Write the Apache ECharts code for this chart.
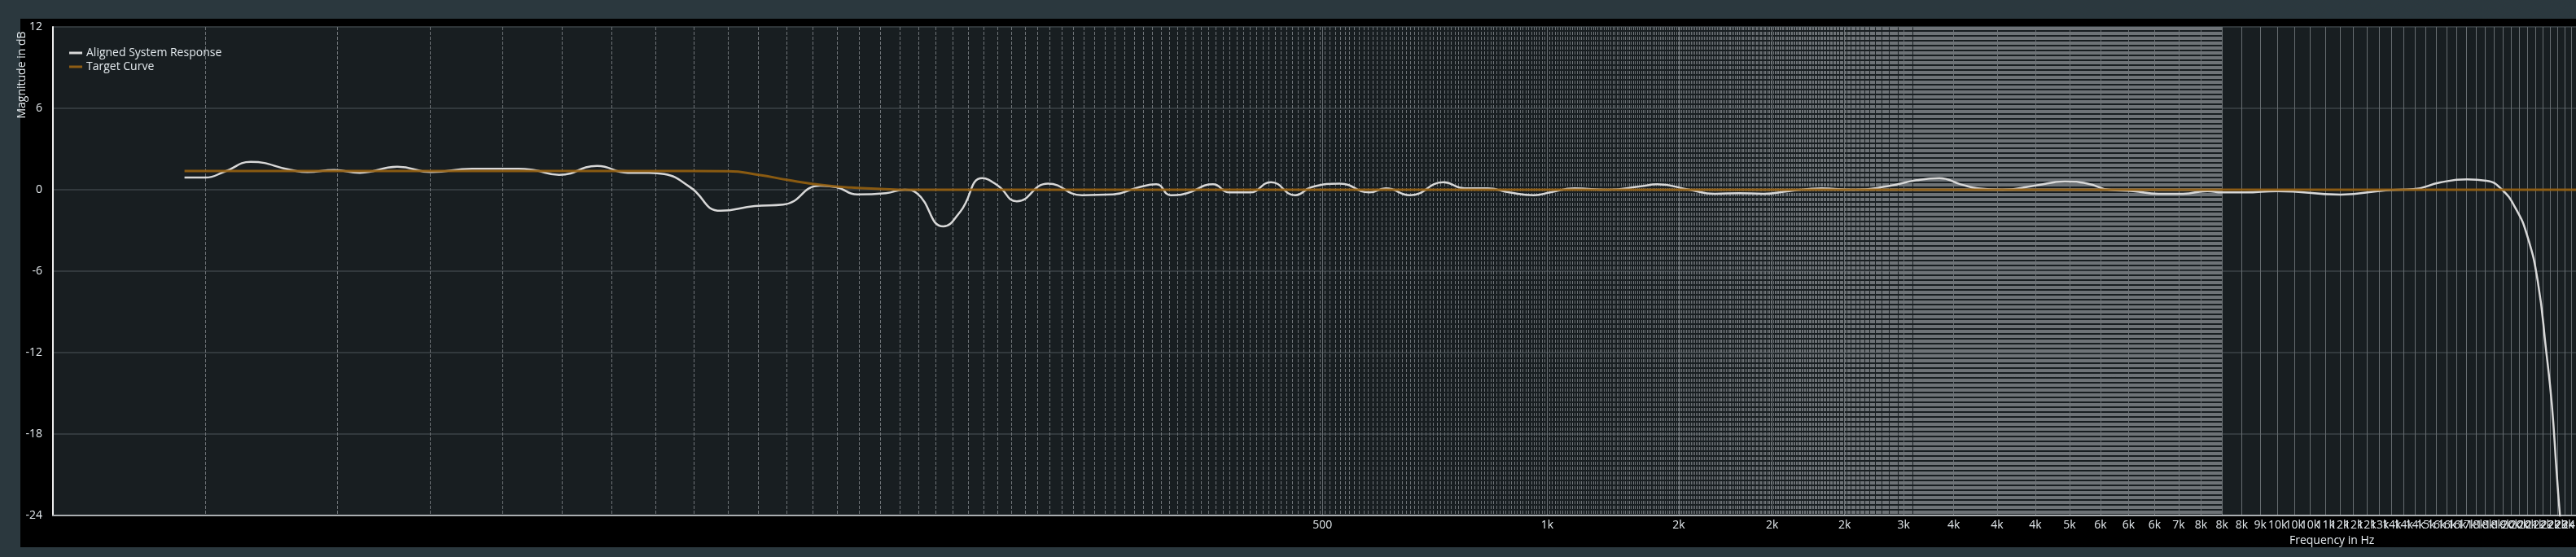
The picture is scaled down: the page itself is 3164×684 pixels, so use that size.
<!DOCTYPE html>
<html><head><meta charset="utf-8">
<script src="https://cdn.jsdelivr.net/npm/echarts@6/dist/echarts.min.js"></script>
<style>
html,body{margin:0;padding:0;background:#2b383e;overflow:hidden;width:3164px;height:684px;}
#panel{position:absolute;left:25px;top:23px;width:3200px;height:649px;background:#000;}
#chart{position:absolute;left:0;top:0;width:3200px;height:684px;}
</style></head><body>
<div id="panel"></div>
<div id="chart"></div>
<script>
// ---- data ----
const alignedFreq = [15,16,17,18.4,20.85,21.9,23.8,25.75,28.9,32.1,36.4,42,44,47.6,53.5,58.8,62.8,65.8,71.2,78.3,87,94.9,106.4,111.7,119.3,130.3,138,143.3,155.5,163.9,175.4,184,195,214.7,238.5,262.3,282.8,299.7,313.5,329.6,357,375.5,399.6,426.8,460,484,528,578,608,655.6,726.5,775,832,890,960,1009,1088,1206,1334,1403,1550,1676,1806,1948,2106,2328,2573,2852,3122,3349,3576,3770,4063,4492,4929,5288,5645,6085,6578,7093,7648,8000,8581,9489,11540,13250,14430,15680,17020,18080,18920,19790,20500,21180,21720,22110,22440,22670,23000];
const alignedDb = [0.9,0.9,1.35,2.05,1.45,1.3,1.45,1.25,1.7,1.3,1.55,1.55,1.45,1.1,1.75,1.25,1.25,1.15,0.2,-1.55,-1.2,-1.1,0.3,0.2,-0.35,-0.25,0.0,-0.25,-2.7,-1.6,0.85,0.3,-0.85,0.45,-0.4,-0.35,0.15,0.4,-0.4,-0.25,0.4,-0.2,-0.2,0.55,-0.4,0.2,0.45,-0.2,0.1,-0.4,0.55,0.1,0.1,-0.2,-0.4,-0.2,0.1,0,0.25,0.4,0,-0.3,-0.25,-0.3,-0.1,0.1,0,0.25,0.7,0.85,0.4,0.1,0,0.3,0.6,0.45,0,-0.1,-0.3,-0.3,-0.1,-0.2,-0.2,-0.1,-0.36,-0.04,0.04,0.54,0.76,0.66,0.06,-1.4,-3.4,-6.8,-11.8,-15.8,-20.8,-24,-28];
const targetFreq = [15,63,80,88,96.7,106.6,117,128,140,24000];
const targetDb = [1.38,1.38,1.36,1.1,0.7,0.36,0.16,0.06,0,0];
const majorTicks = [500,1000,1500,2000,2500,3000,3500,4000,4500,5000,5500,6000,6500,7000,7500,8000,8500,9000,9500,10000,10500,11000,11500,12000,12500,13000,13500,14000,14500,15000,15500,16000,16500,17000,17500,18000,18500,19000,19500,20000,20500,21000,21500,22000,22500,23000,23500,24000];
const majorLabels = ['500','1k','2k','2k','2k','3k','4k','4k','4k','5k','6k','6k','6k','7k','8k','8k','8k','9k','10k','10k','10k','11k','12k','12k','12k','13k','14k','14k','14k','15k','16k','16k','16k','17k','18k','18k','18k','19k','20k','20k','20k','21k','22k','22k','22k','23k','24k','24k'];
// fine analysis grid: every 8 Hz bin up to 8 kHz
const binStep = 8, binFirst = 2, binLast = 1000;
const binLines = [];
for (let k = binFirst; k <= binLast; k++) binLines.push(k * binStep);

const chart = echarts.init(document.getElementById('chart'), null, {renderer:'canvas'});
const font = 'Open Sans';
const txt = '#e4eaee';
chart.setOption({
  animation:false,
  textStyle:{fontFamily:font},
  grid:{left:65, top:33, width:3102, height:600, show:true, backgroundColor:'#181e21', borderWidth:0, containLabel:false, outerBoundsMode:'none'},
  legend:{
    left:80, top:53, orient:'vertical', itemWidth:16, itemHeight:3, itemGap:3, icon:'rect',
    textStyle:{color:txt, fontSize:14, fontFamily:font},
    data:['Aligned System Response','Target Curve']
  },
  xAxis:[{
    type:'log', logBase:10, min:10, max:24000, position:'bottom',
    name:'Frequency in Hz', nameLocation:'middle', nameGap:15,
    nameTextStyle:{color:txt, fontSize:14, align:'left', padding:[0,0,0,1196]},
    axisLine:{show:true, onZero:false, lineStyle:{color:'#a9adb0', width:2}},
    axisTick:{show:false, customValues:majorTicks},
    axisLabel:{customValues:majorTicks, color:txt, fontSize:14, margin:5, hideOverlap:false,
      formatter:(v)=>{const i = majorTicks.indexOf(Math.round(v)); return i>=0 ? majorLabels[i] : '';}},
    splitLine:{show:true, lineStyle:{color:'#676d71', width:1}}
  },{
    type:'log', logBase:10, min:10, max:24000, position:'bottom',
    axisLine:{show:false}, axisLabel:{show:false},
    axisTick:{show:false, customValues:binLines},
    splitLine:{show:true, lineStyle:{color:'#6e7377', width:1, type:'dashed'}}
  }],
  yAxis:{
    type:'value', min:-24, max:12, interval:6,
    name:'Magnitude in dB', nameLocation:'middle', nameGap:31, nameMoveOverlap:false,
    nameTextStyle:{color:txt, fontSize:14, padding:[0,0,0,482]},
    axisLine:{show:true, lineStyle:{color:'#eeeeee', width:2}},
    axisTick:{show:false},
    axisLabel:{color:txt, fontSize:14, margin:13},
    splitLine:{show:true, lineStyle:{color:'#3b4347', width:1.5}}
  },
  series:[{
    name:'Aligned System Response', type:'line', xAxisIndex:0,
    data:alignedFreq.map((f,i)=>[f, alignedDb[i]]),
    smooth:0.5, showSymbol:false, clip:true, z:3,
    lineStyle:{color:'#d8d8d8', width:2.5}, itemStyle:{color:'#d8d8d8'}
  },{
    name:'Target Curve', type:'line', xAxisIndex:0,
    data:targetFreq.map((f,i)=>[f, targetDb[i]]),
    smooth:0.5, showSymbol:false, clip:true, z:4,
    lineStyle:{color:'rgba(150,96,16,0.9)', width:3}, itemStyle:{color:'#8f5d14'}
  }]
});
</script>
</body></html>
